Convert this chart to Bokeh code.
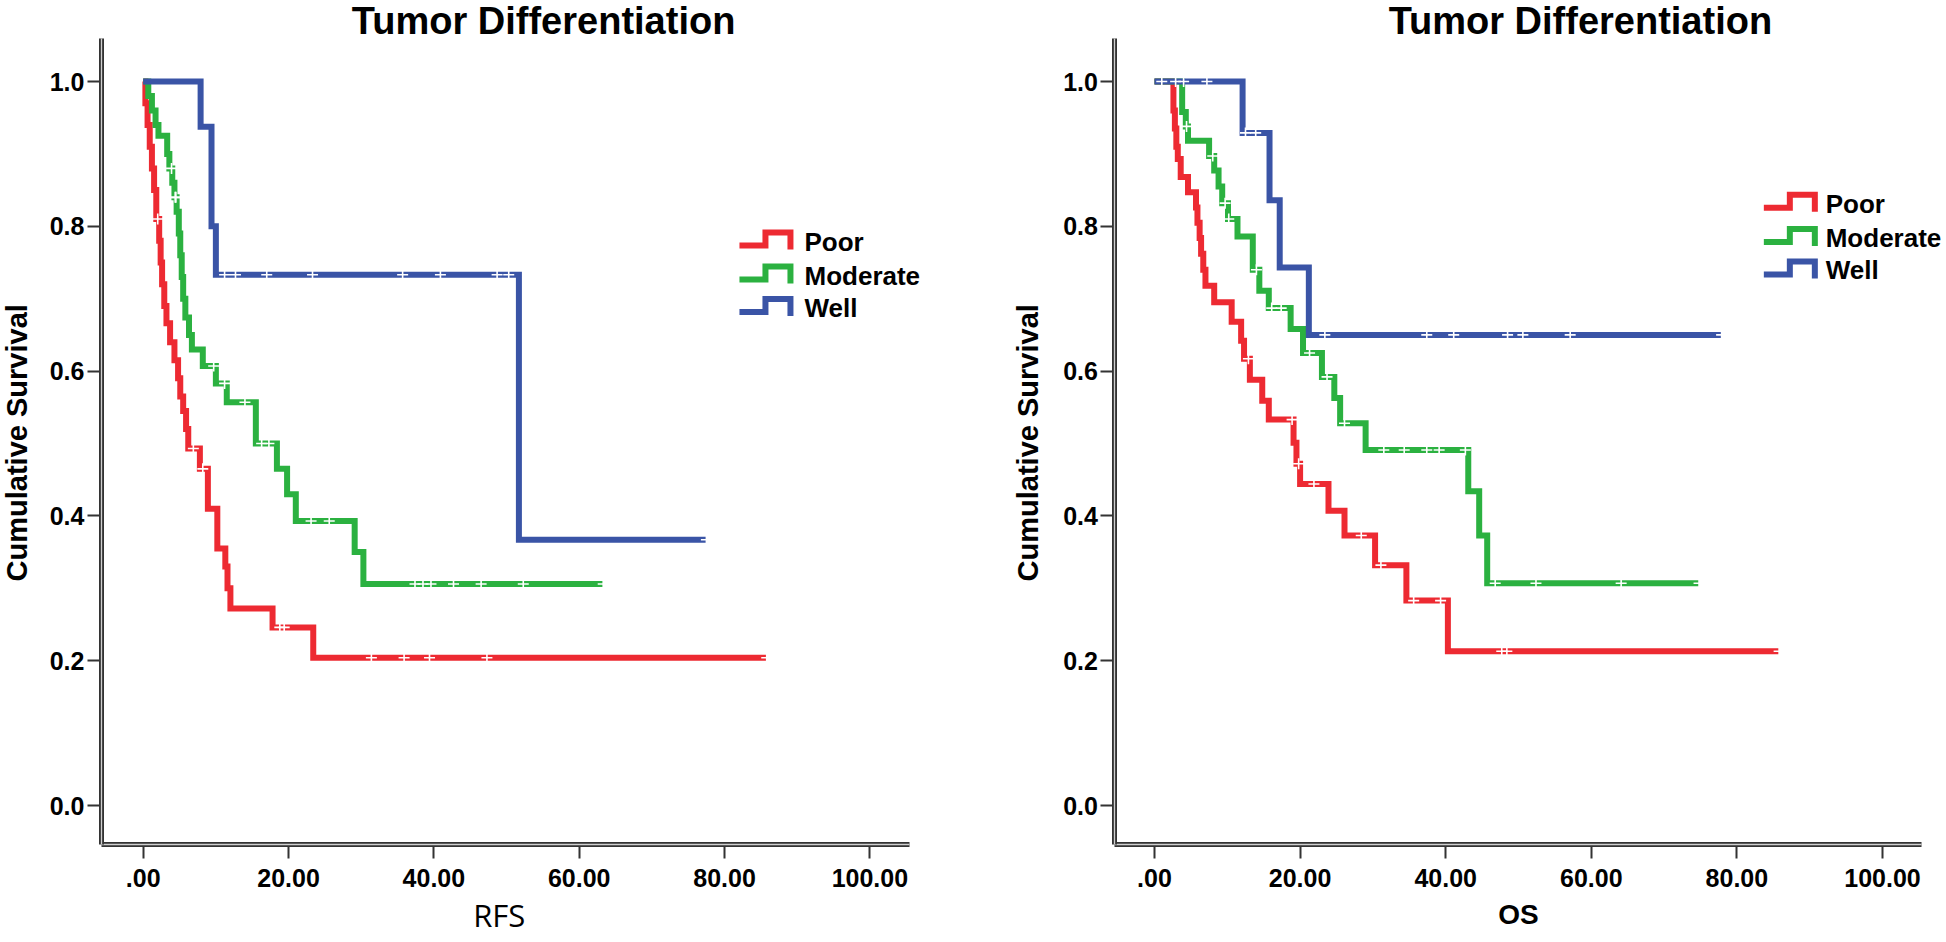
import math
from bokeh.plotting import figure
from bokeh.models import Range1d, Label, FixedTicker, LinearAxis
from bokeh.layouts import row
from bokeh.embed import file_html
from bokeh.resources import INLINE

# ---------------- data ----------------
groups = ["Poor", "Moderate", "Well"]
colors = ["#ED2A32", "#2BB140", "#3A54A6"]

x_ticks = [0, 20, 40, 60, 80, 100]
x_tick_labels = [".00", "20.00", "40.00", "60.00", "80.00", "100.00"]
y_ticks = [0.0, 0.2, 0.4, 0.6, 0.8, 1.0]
y_tick_labels = ["0.0", "0.2", "0.4", "0.6", "0.8", "1.0"]

panel_titles = ["Tumor Differentiation", "Tumor Differentiation"]
x_titles = ["RFS", "OS"]
y_title = "Cumulative Survival"

# RFS (left panel)
rfs_poor_t = [0, 0.3, 0.6, 0.9, 1.2, 1.5, 1.8, 2.2, 2.4, 2.6, 2.9, 3.2, 3.7, 4.3, 4.8, 5.1, 5.5, 5.9, 6.2,
              7.8, 8.9, 10.2, 11.3, 11.6, 12.0, 17.8, 23.4, 85.8]
rfs_poor_s = [1.0, 0.97, 0.94, 0.91, 0.88, 0.85, 0.81, 0.78, 0.75, 0.72, 0.69, 0.666, 0.64, 0.615, 0.59, 0.565,
              0.545, 0.52, 0.493, 0.465, 0.41, 0.355, 0.33, 0.30, 0.272, 0.246, 0.204, 0.204]
rfs_poor_ct = [2.0, 6.9, 8.2, 18.8, 19.4, 31.4, 35.9, 39.4, 47.3, 85.8]
rfs_poor_cs = [0.81, 0.493, 0.465, 0.246, 0.246, 0.204, 0.204, 0.204, 0.204, 0.204]

rfs_mod_t = [0, 0.7, 1.2, 1.7, 2.1, 3.3, 3.6, 4.0, 4.3, 4.6, 4.9, 5.1, 5.3, 5.5, 5.8, 6.3, 6.7, 8.2, 10.0,
             11.5, 15.5, 18.4, 19.8, 21.0, 29.1, 30.3, 63.3]
rfs_mod_s = [1.0, 0.98, 0.96, 0.94, 0.925, 0.90, 0.88, 0.86, 0.84, 0.82, 0.79, 0.76, 0.73, 0.70, 0.674, 0.65,
             0.63, 0.607, 0.583, 0.557, 0.50, 0.465, 0.43, 0.393, 0.35, 0.306, 0.306]
rfs_mod_ct = [3.9, 4.4, 4.5, 9.7, 11.2, 14.0, 16.3, 17.3, 23.1, 25.6, 37.4, 38.5, 39.6, 42.7, 46.5, 52.3, 63.3]
rfs_mod_cs = [0.88, 0.84, 0.84, 0.607, 0.583, 0.557, 0.50, 0.50, 0.393, 0.393, 0.306, 0.306, 0.306, 0.306,
              0.306, 0.306, 0.306]

rfs_well_t = [0, 7.9, 9.4, 10.0, 51.7, 77.5]
rfs_well_s = [1.0, 0.9375, 0.80, 0.733, 0.367, 0.367]
rfs_well_ct = [11.2, 12.7, 17.0, 23.3, 35.7, 40.9, 48.7, 50.3, 77.5]
rfs_well_cs = [0.733, 0.733, 0.733, 0.733, 0.733, 0.733, 0.733, 0.733, 0.367]

# OS (right panel)
os_poor_t = [0, 2.6, 2.8, 3.0, 3.2, 3.6, 4.6, 5.7, 5.9, 6.2, 6.4, 6.7, 7.0, 8.2, 10.6, 11.9, 12.3, 13.1, 14.8,
             15.7, 19.1, 19.5, 20.0, 23.9, 26.1, 30.3, 34.6, 40.3, 85.8]
os_poor_s = [1.0, 0.96, 0.935, 0.91, 0.893, 0.868, 0.847, 0.826, 0.805, 0.784, 0.762, 0.74, 0.718, 0.695, 0.668,
             0.642, 0.617, 0.588, 0.559, 0.533, 0.501, 0.472, 0.444, 0.407, 0.373, 0.332, 0.283, 0.213, 0.213]
os_poor_ct = [12.9, 18.9, 19.8, 21.9, 28.4, 31.1, 35.6, 39.3, 47.7, 48.4, 85.8]
os_poor_cs = [0.617, 0.533, 0.472, 0.444, 0.373, 0.332, 0.283, 0.283, 0.213, 0.213, 0.213]

os_mod_t = [0, 3.8, 4.3, 4.6, 7.5, 8.2, 8.8, 9.3, 10.1, 11.4, 13.5, 14.4, 15.7, 18.7, 20.4, 23.0, 24.7, 25.5,
            29.0, 43.1, 44.6, 45.7, 74.8]
os_mod_s = [1.0, 0.958, 0.938, 0.918, 0.897, 0.877, 0.855, 0.832, 0.81, 0.786, 0.74, 0.711, 0.687, 0.658, 0.625,
            0.592, 0.563, 0.528, 0.491, 0.434, 0.373, 0.307, 0.307]
os_mod_ct = [4.4, 8.0, 9.7, 10.2, 14.0, 16.1, 17.4, 21.3, 23.7, 26.1, 31.5, 34.3, 37.4, 39.1, 42.7, 46.8, 52.4,
             64.1, 74.8]
os_mod_cs = [0.938, 0.897, 0.832, 0.81, 0.74, 0.687, 0.687, 0.625, 0.592, 0.528, 0.491, 0.491, 0.491, 0.491,
             0.491, 0.307, 0.307, 0.307, 0.307]

os_well_t = [0, 12.1, 15.8, 17.2, 21.2, 77.9]
os_well_s = [1.0, 0.929, 0.836, 0.743, 0.65, 0.65]
os_well_ct = [1.0, 2.9, 4.0, 7.2, 12.5, 13.9, 23.4, 37.4, 41.1, 48.5, 50.6, 57.1, 77.9]
os_well_cs = [1.0, 1.0, 1.0, 1.0, 0.929, 0.929, 0.65, 0.65, 0.65, 0.65, 0.65, 0.65, 0.65]

rfs_series = [(rfs_poor_t, rfs_poor_s, rfs_poor_ct, rfs_poor_cs),
              (rfs_mod_t, rfs_mod_s, rfs_mod_ct, rfs_mod_cs),
              (rfs_well_t, rfs_well_s, rfs_well_ct, rfs_well_cs)]
os_series = [(os_poor_t, os_poor_s, os_poor_ct, os_poor_cs),
             (os_mod_t, os_mod_s, os_mod_ct, os_mod_cs),
             (os_well_t, os_well_s, os_well_ct, os_well_cs)]

# ---------------- styling / layout ----------------
BOLD = "Liberation Sans"
AXIS_COLOR = "#333333"
W, H = 973, 942
S1_PX, S0_PX = 81.0, 805.0                 # screen rows of survival 1.0 and 0.0
Y_PER_PX = 1 / (S0_PX - S1_PX)
Y_RANGE = (-(H - S0_PX) * Y_PER_PX, 1 + S1_PX * Y_PER_PX)
AX_Y = -39 * Y_PER_PX                      # x axis line sits 39 px below 0.0
AX_TOP = 1.06


def style_axis(ax):
    ax.axis_line_width = 5
    ax.axis_line_color = AXIS_COLOR
    ax.major_tick_line_width = 2
    ax.major_tick_line_color = AXIS_COLOR
    ax.major_tick_out = 14
    ax.major_tick_in = 0
    ax.minor_tick_line_color = None
    ax.major_label_text_font = BOLD
    ax.major_label_text_font_style = "bold"
    ax.major_label_text_font_size = "25px"
    ax.major_label_text_color = "black"


def make_panel(series, title, xtitle, x0_px, x_per_px, ax_x, ax_right, title_x, ylab_x,
               xlab_x, leg_icon_x, leg_rows, leg_text_x, xtitle_font, xtitle_style, xtitle_size):
    xr = (-x0_px * x_per_px, (W - x0_px) * x_per_px)
    p = figure(width=W, height=H, x_range=Range1d(*xr), y_range=Range1d(*Y_RANGE),
               output_backend="svg", toolbar_location=None,
               min_border_left=0, min_border_right=0, min_border_top=0, min_border_bottom=0)
    p.outline_line_color = None
    p.xgrid.visible = False
    p.ygrid.visible = False
    p.background_fill_color = "white"
    p.border_fill_color = "white"

    style_axis(p.xaxis[0])
    style_axis(p.yaxis[0])
    p.xaxis.major_label_standoff = 10
    p.yaxis.major_label_standoff = 3
    p.xaxis.fixed_location = AX_Y
    p.xaxis.bounds = (ax_x, ax_right)
    p.yaxis.fixed_location = ax_x
    p.yaxis.bounds = (AX_Y, AX_TOP)
    p.xaxis.ticker = FixedTicker(ticks=x_ticks)
    p.xaxis.major_label_overrides = {t: l for t, l in zip(x_ticks, x_tick_labels)}
    p.yaxis.ticker = FixedTicker(ticks=y_ticks)
    p.yaxis.major_label_overrides = {t: l for t, l in zip(y_ticks, y_tick_labels)}

    # thin light core line -> double-line look of the axes
    for loc, fixed, bnds in (("below", AX_Y, (ax_x, ax_right)), ("left", ax_x, (AX_Y, AX_TOP))):
        core = LinearAxis(fixed_location=fixed, bounds=bnds, axis_line_color="#cfcfcf",
                          axis_line_width=1.3, major_tick_line_color=None, minor_tick_line_color=None,
                          major_label_text_color=None, ticker=FixedTicker(ticks=[]))
        p.add_layout(core, loc)

    for (t, s, ct, cs), col in zip(series, colors):
        p.step(x=t, y=s, mode="after", line_width=6, line_color=col, line_join="miter")
        p.scatter(x=ct, y=cs, marker="cross", size=11, line_color="white", line_width=1.6)

    p.add_layout(Label(x=title_x, y=1 + (S1_PX - 20.5) * Y_PER_PX, text=title,
                       text_font=BOLD, text_font_style="bold", text_font_size="38px",
                       text_align="center", text_baseline="middle", text_color="black"))
    p.add_layout(Label(x=ylab_x, y=0.501, text=y_title, angle=math.pi / 2,
                       text_font=BOLD, text_font_style="bold", text_font_size="29px",
                       text_align="center", text_baseline="middle", text_color="black"))
    p.add_layout(Label(x=xlab_x, y=-(914 - S0_PX) * Y_PER_PX, text=xtitle,
                       text_font=xtitle_font, text_font_style=xtitle_style, text_font_size=xtitle_size,
                       text_align="center", text_baseline="middle", text_color="black"))

    for g, col, c in zip(groups, colors, leg_rows):
        xs = [leg_icon_x + k * x_per_px for k in (0, 26, 26, 51, 51)]
        ys = [c - 4 * Y_PER_PX, c - 4 * Y_PER_PX, c + 9 * Y_PER_PX, c + 9 * Y_PER_PX, c - 8 * Y_PER_PX]
        p.line(xs, ys, line_width=6, line_color=col, line_join="miter")
        p.add_layout(Label(x=leg_text_x, y=c, text=g, text_font=BOLD, text_font_style="bold",
                           text_font_size="26px", text_align="left", text_baseline="middle",
                           text_color="black"))
    return p


p1 = make_panel(rfs_series, panel_titles[0], x_titles[0], x0_px=142.7, x_per_px=1 / 7.267,
                ax_x=-5.74, ax_right=105.45, title_x=55.1, ylab_x=-17.4, xlab_x=49.0,
                leg_icon_x=82.05, leg_rows=[0.779, 0.732, 0.687], leg_text_x=91.0,
                xtitle_font="Open Sans", xtitle_style="normal", xtitle_size="31px")
p2 = make_panel(os_series, panel_titles[1], x_titles[1], x0_px=181.0, x_per_px=1 / 7.28,
                ax_x=-5.43, ax_right=105.4, title_x=58.5, ylab_x=-17.4, xlab_x=50.0,
                leg_icon_x=83.7, leg_rows=[0.831, 0.784, 0.739], leg_text_x=92.2,
                xtitle_font=BOLD, xtitle_style="bold", xtitle_size="28px")

layout = row(p1, p2)
open("out.html", "w").write(file_html(layout, INLINE))
